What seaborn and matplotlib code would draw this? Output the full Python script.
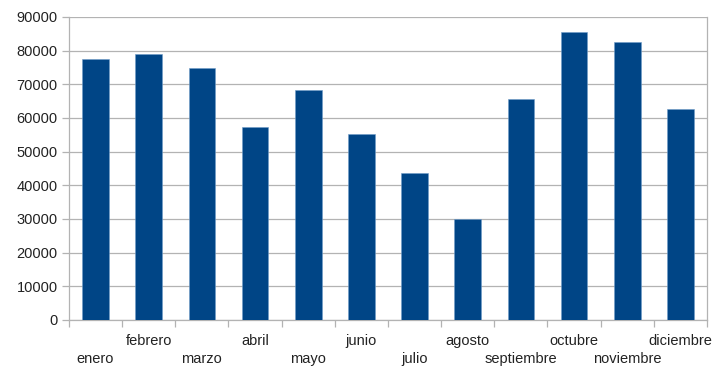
import seaborn as sns
import matplotlib.pyplot as plt
import pandas as pd

# datos
meses = ["enero", "febrero", "marzo", "abril", "mayo", "junio", "julio",
         "agosto", "septiembre", "octubre", "noviembre", "diciembre"]
valores = [77500, 78900, 74800, 57200, 68300, 55100, 43600,
           30000, 65500, 85500, 82600, 62600]

df = pd.DataFrame({"mes": meses, "valor": valores})

sns.set_theme(style="white")
plt.rcParams['font.family'] = ['Liberation Sans', 'DejaVu Sans']

gris = "#b3b3b3"
fig, ax = plt.subplots(figsize=(7.17, 3.69), dpi=100)
fig.subplots_adjust(left=0.0962, right=0.986, top=0.954, bottom=0.133)

sns.barplot(data=df, x="mes", y="valor", color="#004586", width=0.5,
            saturation=1, edgecolor="#6f9cc8", linewidth=0.4, ax=ax, zorder=3)

ax.set_xlim(-0.5, 11.5)
ax.set_ylim(0, 90000)
ax.set_yticks(range(0, 90001, 10000))
ax.set_xlabel("")
ax.set_ylabel("")
ax.grid(axis="y", color=gris, linewidth=0.9, zorder=0)

for lado in ["left", "bottom", "right"]:
    ax.spines[lado].set_color(gris)
    ax.spines[lado].set_linewidth(0.9)
ax.spines["top"].set_visible(False)

ax.tick_params(axis="y", length=5, width=0.9, color=gris, labelsize=10.5,
               labelcolor="#222222", pad=3, left=True)
ax.tick_params(axis="x", which="major", length=0, labelsize=10.5,
               labelcolor="#222222", bottom=True)
ax.set_xticks([i - 0.5 for i in range(13)], minor=True)
ax.tick_params(axis="x", which="minor", length=5, width=0.9, color=gris, bottom=True)

# etiquetas escalonadas
for i, t in enumerate(ax.xaxis.get_major_ticks()):
    t.set_pad(23 if i % 2 == 0 else 10)

plt.savefig("out.png", dpi=100)
